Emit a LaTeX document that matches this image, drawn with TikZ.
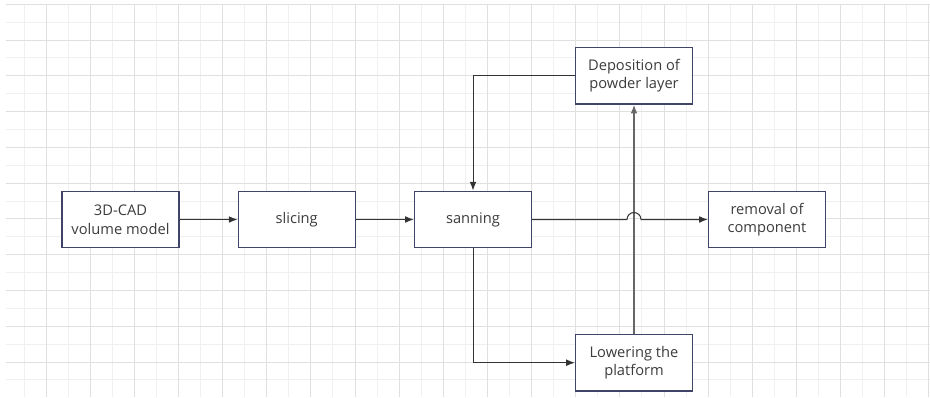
\documentclass[tikz,border=0pt]{standalone}
\usepackage{fontspec}
\setmainfont{Open Sans}
\usetikzlibrary{arrows.meta}
\definecolor{boxline}{HTML}{3F4468}
\definecolor{txt}{HTML}{3C3C3C}
\definecolor{gridminor}{HTML}{F0F0F0}
\definecolor{gridmajor}{HTML}{E0E0E0}

\begin{document}
\begin{tikzpicture}[x=0.75pt, y=0.75pt,
    stage/.style={draw=boxline, line width=0.9pt, fill=white, minimum width=87.75pt,
        minimum height=42.5pt, inner sep=0pt, align=center, text=txt,
        font=\fontsize{11}{14}\selectfont},
    conn/.style={draw=black!80, line width=0.75pt, -{Latex[length=6.5pt,width=5pt]}}]
    \useasboundingbox (0,0) rectangle (930,397);

    % Grid
    \foreach \k in {0,...,41} {
        \pgfmathsetmacro{\gx}{24+22.07*\k}
        \ifodd\k\else\draw[gridminor, line width=0.75pt] (\gx,0) -- (\gx,392.7);\fi
    }
    \foreach \k in {0,...,21} {
        \pgfmathsetmacro{\gy}{392.7-17.89*\k}
        \ifodd\k\draw[gridminor, line width=0.75pt] (6,\gy) -- (930,\gy);\fi
    }
    \foreach \k in {0,...,41} {
        \pgfmathsetmacro{\gx}{24+22.07*\k}
        \ifodd\k\draw[gridmajor, line width=0.75pt] (\gx,0) -- (\gx,392.7);\fi
    }
    \foreach \k in {0,...,21} {
        \pgfmathsetmacro{\gy}{392.7-17.89*\k}
        \ifodd\k\else\draw[gridmajor, line width=0.75pt] (6,\gy) -- (930,\gy);\fi
    }

    % Stages
    \node[stage] (cad) at (120.5,177.5) {3D-CAD\\volume model};
    \node[stage] (slicing) at (296.7,177.5) {slicing};
    \node[stage] (scan) at (473,177.5) {sanning};
    \node[stage] (depo) at (634,321.3) {Deposition of\\powder layer};
    \node[stage] (removal) at (767,177.5) {removal of\\component};
    \node[stage] (lower) at (634,34.3) {Lowering the\\platform};

    % Main line
    \draw[conn] (cad) -- (slicing);
    \draw[conn] (slicing) -- (scan);

    % Layer loop
    \draw[conn] (depo.west) -| (scan.north);
    \draw[conn] (scan.south) |- (lower.west);
    \draw[conn, draw=black!60, line width=1.1pt] (lower.north) -- (depo.south);

    % Exit with line jump
    \coordinate (jump) at (depo.south |- scan.east);
    \draw[conn] (scan.east) -- ([xshift=-5.25pt]jump)
        arc[start angle=180, end angle=0, radius=7] -- (removal.west);
\end{tikzpicture}
\end{document}
